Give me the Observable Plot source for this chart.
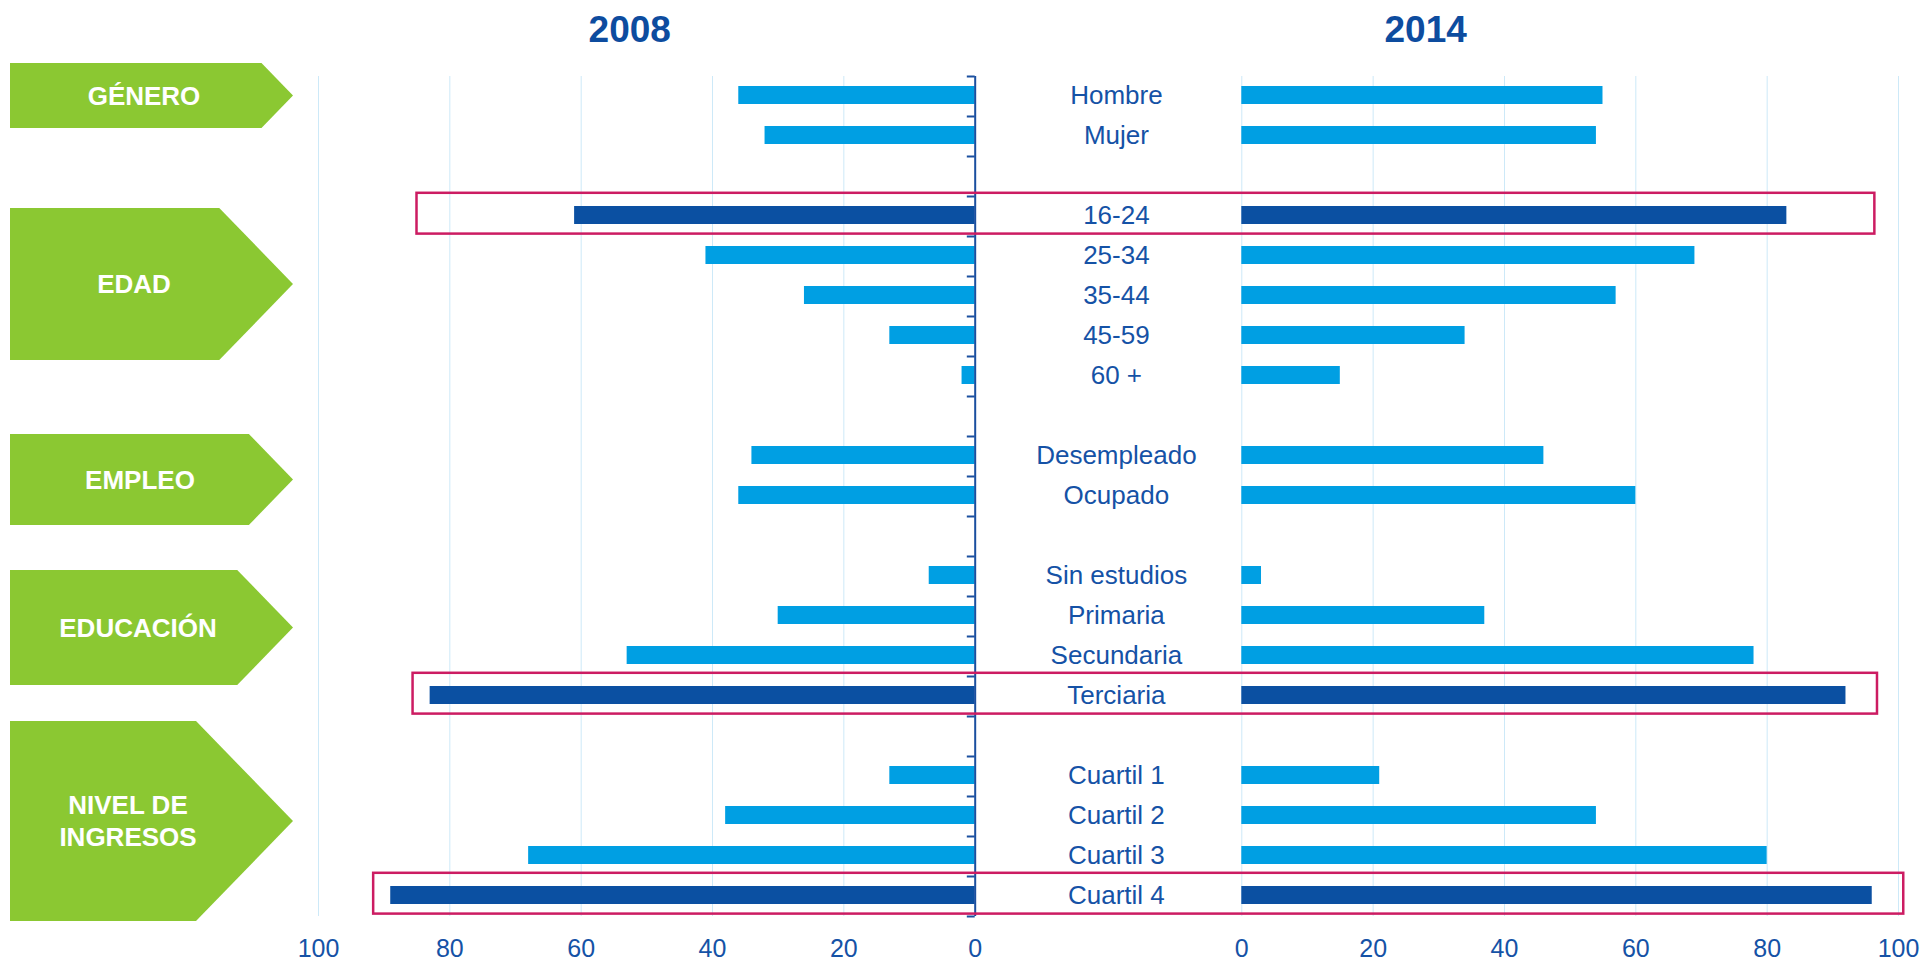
<!DOCTYPE html>
<html><head><meta charset="utf-8">
<script src="https://cdn.jsdelivr.net/npm/d3@7"></script>
<script src="https://cdn.jsdelivr.net/npm/@observablehq/plot@0.6"></script>
<style>html,body{margin:0;padding:0;background:#fff;} svg{display:block}</style>
</head><body><div id="chart"></div>
<script>
// ---------- DATA ----------
const anios = ["2008", "2014"];
const grupos = ["GÉNERO", "EDAD", "EMPLEO", "EDUCACIÓN", "NIVEL DE\nINGRESOS"];
const categorias = ["Hombre", "Mujer", "16-24", "25-34", "35-44", "45-59", "60 +",
  "Desempleado", "Ocupado", "Sin estudios", "Primaria", "Secundaria", "Terciaria",
  "Cuartil 1", "Cuartil 2", "Cuartil 3", "Cuartil 4"];
const grupoDeCategoria = [0, 0, 1, 1, 1, 1, 1, 2, 2, 3, 3, 3, 3, 4, 4, 4, 4];
const valores2008 = [36, 32, 61, 41, 26, 13, 2, 34, 36, 7, 30, 53, 83, 13, 38, 68, 89];
const valores2014 = [55, 54, 83, 69, 57, 34, 15, 46, 60, 3, 37, 78, 92, 21, 54, 80, 96];
const destacadas = ["16-24", "Terciaria", "Cuartil 4"];
const ticksX = [0, 20, 40, 60, 80, 100];

// ---------- STYLE / LAYOUT ----------
const FONT = "'Liberation Sans', Arial, Helvetica, sans-serif";
const C_CLARO = "#009fe3", C_OSCURO = "#0b50a2", C_TEXTO = "#1552a6", C_TITULO = "#0d4c9f";
const C_EJE = "#1a4f9f", C_GRID = "#cde9f8", C_VERDE = "#8bc832", C_MARCO = "#cc1c62";
const GAP = 40.6; // width of the central label column, in value units

const filas = categorias.map((c, i) => ({
  cat: c, slot: i + grupoDeCategoria[i],
  v08: valores2008[i], v14: valores2014[i], dest: destacadas.includes(c)
}));
const nSlots = d3.max(filas, d => d.slot) + 1;

// green group arrows (pixel layout)
const flechas = [
  {top: 63, bottom: 128, tx: 144},
  {top: 208, bottom: 360, tx: 134},
  {top: 434, bottom: 525, tx: 140},
  {top: 570, bottom: 685, tx: 138},
  {top: 721, bottom: 921, tx: 128}
];
function flechasMark() {
  const g = d3.create("svg:g");
  flechas.forEach((f, i) => {
    const h = f.bottom - f.top, mid = (f.top + f.bottom) / 2, tip = 293, re = tip - 0.485 * h;
    g.append("path")
      .attr("d", `M10,${f.top}H${re}L${tip},${mid}L${re},${f.bottom}H10Z`)
      .attr("fill", C_VERDE);
    const lines = grupos[i].split("\n");
    const t = g.append("text")
      .attr("fill", "#fff").attr("font-weight", "bold").attr("font-size", 26)
      .attr("font-family", FONT).attr("text-anchor", "middle");
    lines.forEach((l, j) => t.append("tspan")
      .attr("x", f.tx).attr("y", mid + (j - (lines.length - 1) / 2) * 31.7)
      .attr("dy", "0.35em").text(l));
  });
  return g.node();
}

const chart = Plot.plot({
  width: 1923, height: 960,
  marginLeft: 318, marginRight: 25, marginTop: 76, marginBottom: 44,
  x: {domain: [-100, 100 + GAP], range: [318, 1898], axis: null},
  y: {domain: [0, nSlots], range: [76, 916], axis: null},
  style: {fontFamily: FONT, background: "#fff", overflow: "visible"},
  marks: [
    // gridlines
    Plot.ruleX(ticksX.filter(t => t > 0), {x: d => -d, y1: 0, y2: nSlots, stroke: C_GRID, strokeWidth: 1}),
    Plot.ruleX(ticksX, {x: d => GAP + d, y1: 0, y2: nSlots, stroke: C_GRID, strokeWidth: 1}),
    // bars 2008 (left)
    Plot.rect(filas.filter(d => !d.dest), {x1: d => -d.v08, x2: 0, y1: d => d.slot + 0.25, y2: d => d.slot + 0.7, fill: C_CLARO}),
    Plot.rect(filas.filter(d => d.dest), {x1: d => -d.v08, x2: 0, y1: d => d.slot + 0.25, y2: d => d.slot + 0.7, fill: C_OSCURO}),
    // bars 2014 (right)
    Plot.rect(filas.filter(d => !d.dest), {x1: GAP, x2: d => GAP + d.v14, y1: d => d.slot + 0.25, y2: d => d.slot + 0.7, fill: C_CLARO}),
    Plot.rect(filas.filter(d => d.dest), {x1: GAP, x2: d => GAP + d.v14, y1: d => d.slot + 0.25, y2: d => d.slot + 0.7, fill: C_OSCURO}),
    // left axis line and ticks
    Plot.ruleY(d3.range(nSlots + 1), {y: d => d, x1: -1.2, x2: 0, stroke: C_EJE, strokeWidth: 2}),
    Plot.ruleX([0], {y1: 0, y2: nSlots, stroke: C_EJE, strokeWidth: 2}),
    // highlight frames
    Plot.rect(filas.filter(d => d.dest), {
      x1: d => -Math.max(d.v08 + 2.6, 85), x2: d => GAP + Math.max(d.v14 + 4.8, 96.4),
      y1: d => d.slot - 0.08, y2: d => d.slot + 0.94,
      fill: "none", stroke: C_MARCO, strokeWidth: 2.5
    }),
    // category labels
    Plot.text(filas, {x: GAP / 2 + 1.2, y: d => d.slot + 0.49, text: "cat", fill: C_TEXTO, fontSize: 26}),
    // x tick labels
    Plot.text(ticksX, {x: d => -d, y: 21.8, text: d => String(d), fill: C_TEXTO, fontSize: 25}),
    Plot.text(ticksX, {x: d => GAP + d, y: 21.8, text: d => String(d), fill: C_TEXTO, fontSize: 25}),
    // panel titles
    Plot.text([anios[0]], {x: -52.6, y: -1.15, text: d => d, fill: C_TITULO, fontSize: 37, fontWeight: "bold"}),
    Plot.text([anios[1]], {x: GAP + 28, y: -1.15, text: d => d, fill: C_TITULO, fontSize: 37, fontWeight: "bold"}),
    // group arrows
    flechasMark
  ]
});
document.getElementById("chart").appendChild(chart);
</script>
</body></html>
